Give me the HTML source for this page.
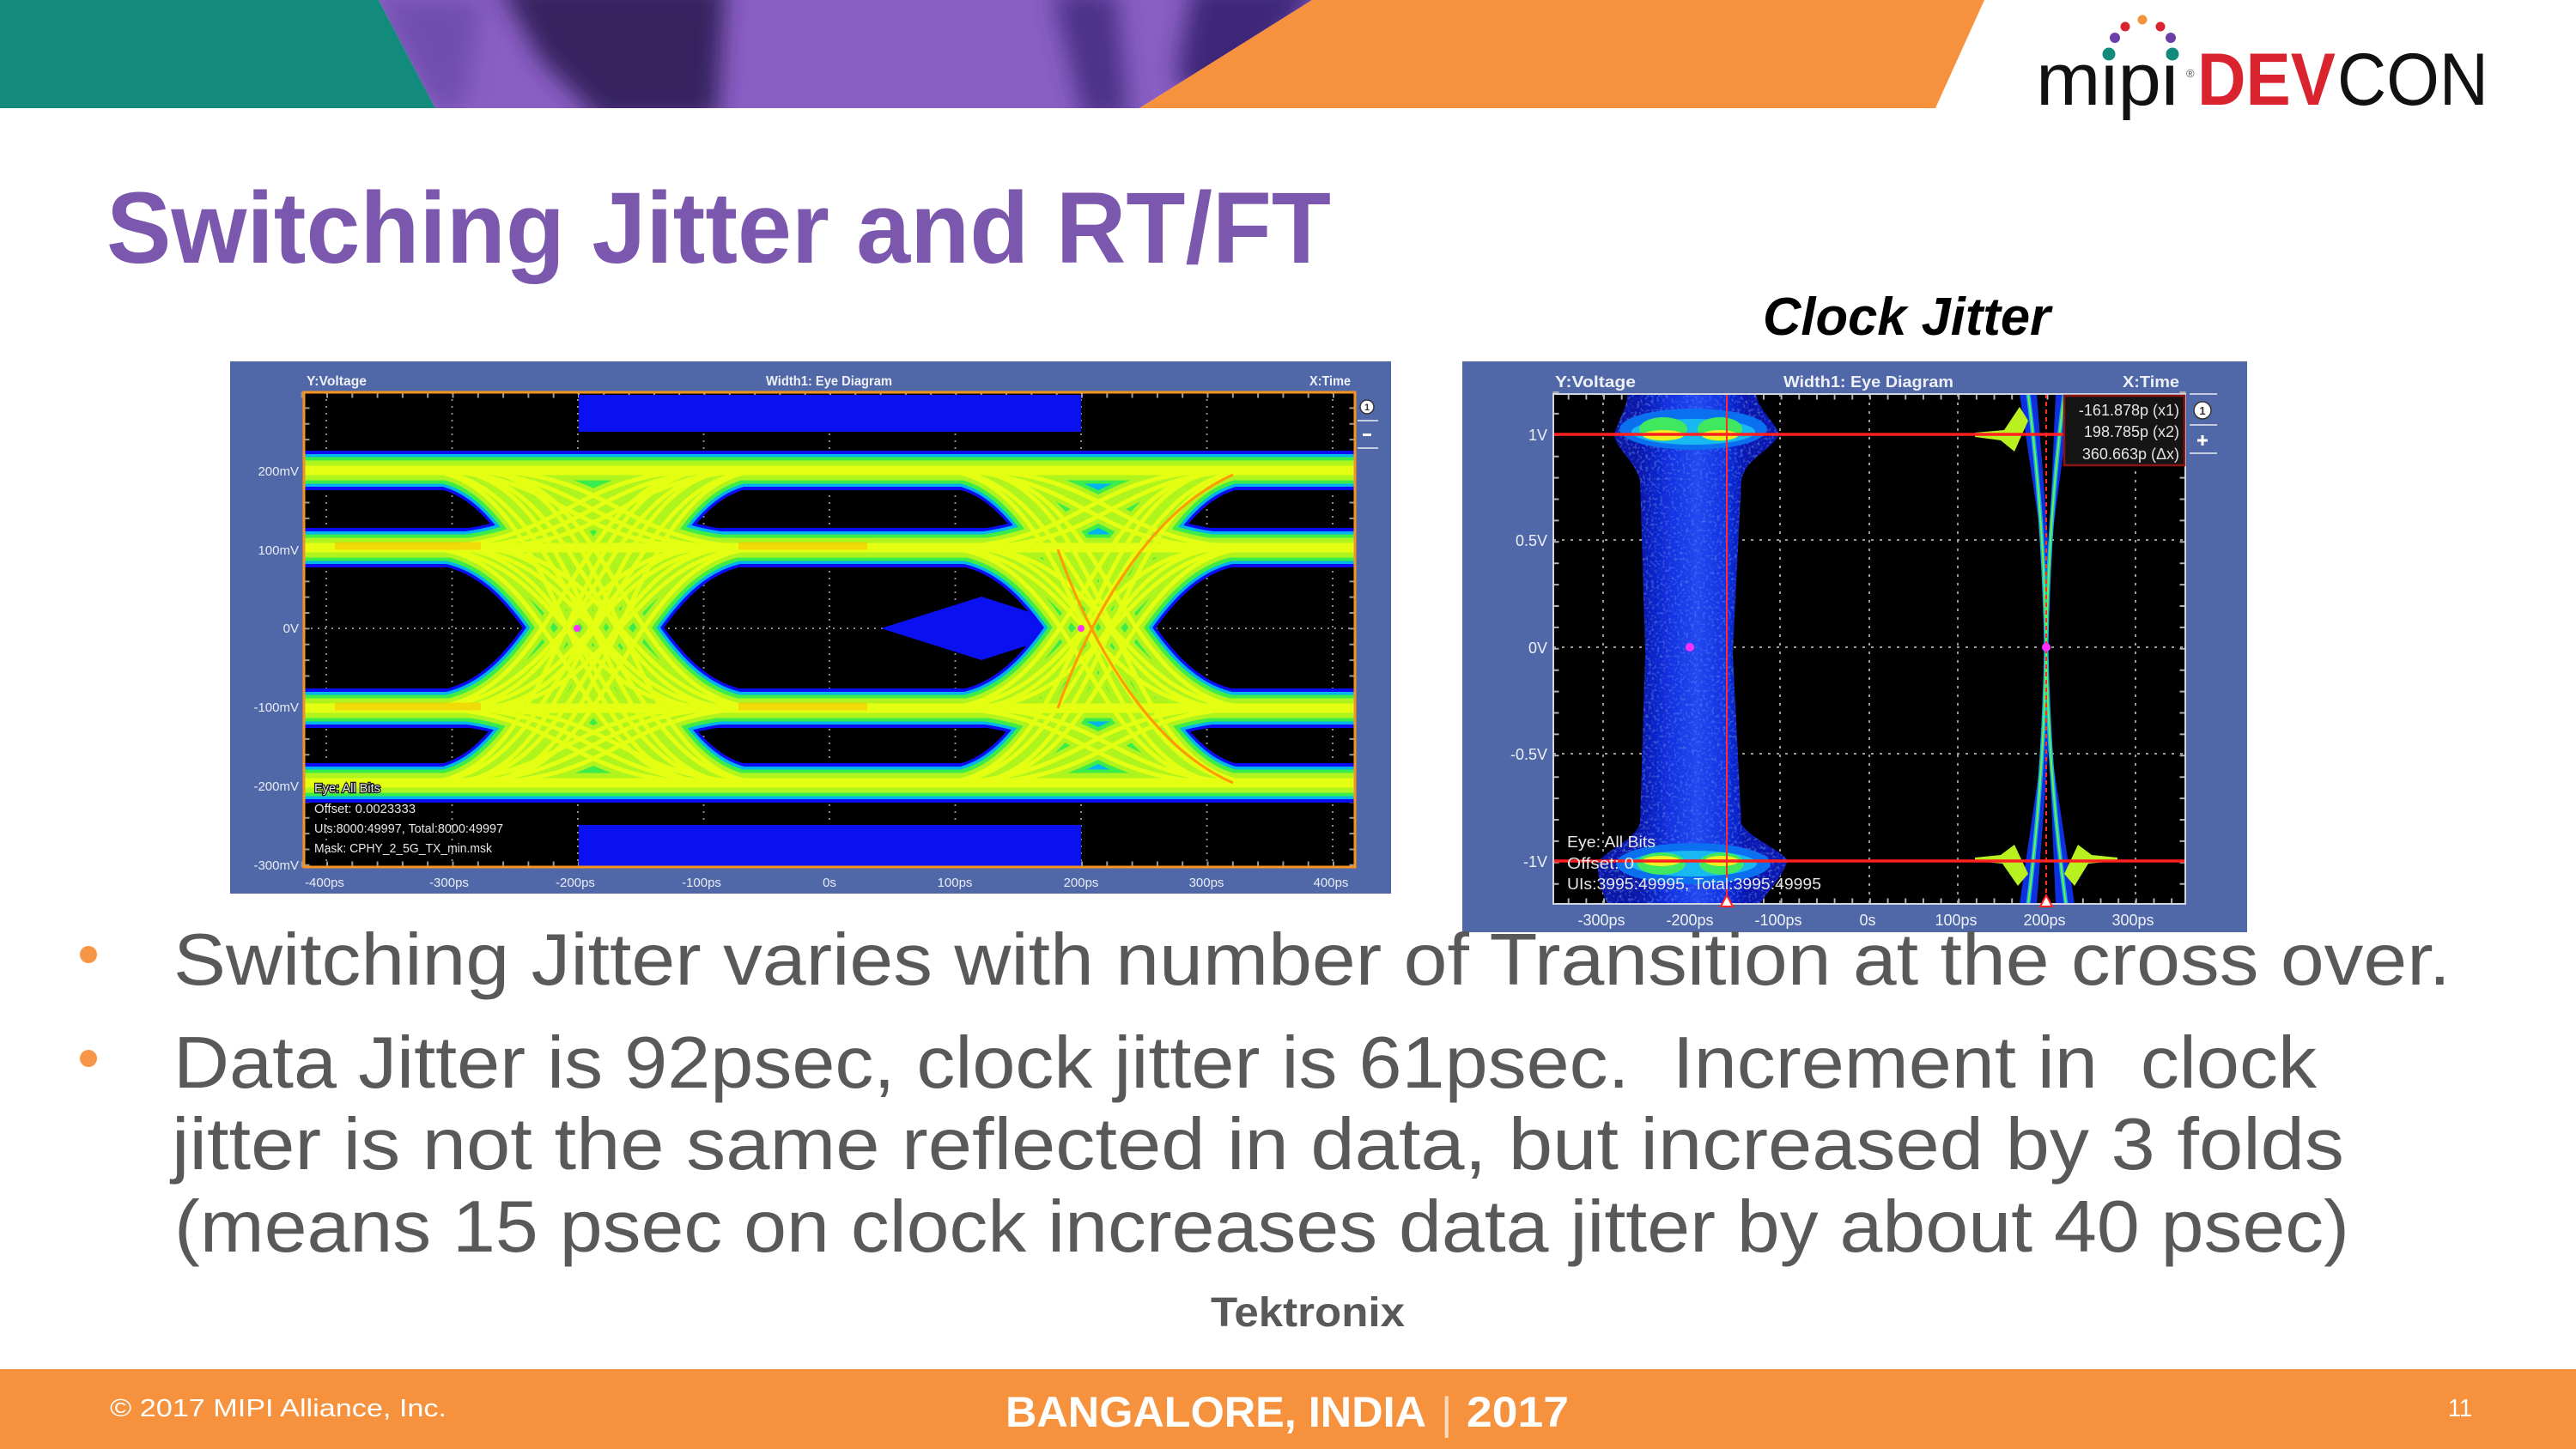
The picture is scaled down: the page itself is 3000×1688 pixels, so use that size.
<!DOCTYPE html>
<html><head><meta charset="utf-8"><style>html,body{margin:0;padding:0;background:#fff;}svg{display:block}</style></head>
<body>
<svg xmlns="http://www.w3.org/2000/svg" width="3000" height="1688" viewBox="0 0 3000 1688" font-family="'Liberation Sans', sans-serif">
<defs>
  <filter id="bl" x="-50%" y="-50%" width="200%" height="200%"><feGaussianBlur stdDeviation="14"/></filter>
  <filter id="spk" x="0" y="0" width="100%" height="100%">
    <feTurbulence type="fractalNoise" baseFrequency="0.3" numOctaves="2" seed="3" result="n"/>
    <feColorMatrix in="n" type="matrix" values="0 0 0 0 0.12  0 0 0 0 0.3  0 0 0 0 1  0 0 0 1.2 -0.62" result="c"/>
    <feComposite in="c" in2="SourceGraphic" operator="in" result="s"/>
    <feMerge><feMergeNode in="SourceGraphic"/><feMergeNode in="s"/></feMerge>
  </filter>
  <clipPath id="pc"><polygon points="441,0 1528,0 1327,126 507,126"/></clipPath>
  <clipPath id="cl"><rect x="354" y="457" width="1224" height="553"/></clipPath>
  <clipPath id="cr"><rect x="1809" y="459" width="736" height="594"/></clipPath>
  <path id="tr" fill="none" d="M-170 548C0 548 0 638 170 638M-170 548C0 548 0 825 170 825M-170 548C0 548 0 912 170 912M-170 638C0 638 0 548 170 548M-170 638C0 638 0 825 170 825M-170 638C0 638 0 912 170 912M-170 825C0 825 0 548 170 548M-170 825C0 825 0 638 170 638M-170 825C0 825 0 912 170 912M-170 912C0 912 0 548 170 548M-170 912C0 912 0 638 170 638M-170 912C0 912 0 825 170 825"/>
  <path id="bands" fill="none" d="M340 548H1590M340 638H1590M340 825H1590M340 912H1590"/>
  <g id="tx">
    <use href="#tr" x="660"/><use href="#tr" x="690"/><use href="#tr" x="722"/>
    <use href="#tr" x="1263"/><use href="#tr" x="1295"/>
  </g>
  <linearGradient id="cg" x1="1905" x2="2035" y1="0" y2="0" gradientUnits="userSpaceOnUse">
    <stop offset="0" stop-color="#0812a8"/><stop offset="0.3" stop-color="#1430e0"/>
    <stop offset="0.55" stop-color="#2248f0"/><stop offset="0.8" stop-color="#1430e0"/>
    <stop offset="1" stop-color="#0812b0"/>
  </linearGradient>
</defs>

<!-- ===== Top banner ===== -->
<polygon points="0,0 441,0 507,126 0,126" fill="#138b7c"/>
<polygon points="441,0 1528,0 1327,126 507,126" fill="#8a5fc4"/>
<g clip-path="url(#pc)">
  <polygon points="441,0 560,0 540,126 507,126" fill="#6f4eae" filter="url(#bl)"/>
  <polygon points="580,-20 845,-20 835,140 700,140 630,70" fill="#34215f" filter="url(#bl)"/>
  <polygon points="1225,-10 1300,-10 1315,140 1262,140" fill="#4c3288" filter="url(#bl)"/>
  <polygon points="1390,-20 1540,-20 1420,140 1370,90" fill="#3e2878" filter="url(#bl)"/>
</g>
<polygon points="1528,0 2311,0 2254,126 1327,126" fill="#f6923d"/>

<!-- logo -->
<text x="2371" y="122" font-size="86" textLength="166" lengthAdjust="spacingAndGlyphs" fill="#111">mipi</text>
<text x="2546" y="90" font-size="13" fill="#555">®</text>
<text x="2559" y="122" font-size="86" font-weight="bold" textLength="161" lengthAdjust="spacingAndGlyphs" fill="#d9232e">DEV</text>
<text x="2722" y="122" font-size="86" textLength="176" lengthAdjust="spacingAndGlyphs" fill="#111">CON</text>
<circle cx="2495" cy="23" r="5.5" fill="#f6923d"/>
<circle cx="2475" cy="31" r="5.5" fill="#d9232e"/><circle cx="2516" cy="31" r="5.5" fill="#d9232e"/>
<circle cx="2463" cy="44" r="6" fill="#6c3fa8"/><circle cx="2528" cy="44" r="6" fill="#6c3fa8"/>
<circle cx="2456" cy="63" r="7.5" fill="#138b7c"/><circle cx="2530" cy="63" r="7.5" fill="#138b7c"/>

<!-- Title -->
<text x="124" y="306" font-size="118" font-weight="bold" fill="#7b57ae" textLength="1426" lengthAdjust="spacingAndGlyphs">Switching Jitter and RT/FT</text>
<text x="2053" y="390" font-size="62" font-weight="bold" font-style="italic" fill="#000" textLength="335" lengthAdjust="spacingAndGlyphs">Clock Jitter</text>

<!-- ===== Left chart ===== -->
<rect x="268" y="421" width="1352" height="620" fill="#5068a8"/>
<text x="357" y="449" font-size="16" font-weight="bold" fill="#eef0f7" textLength="70" lengthAdjust="spacingAndGlyphs">Y:Voltage</text>
<text x="892" y="449" font-size="16" font-weight="bold" fill="#eef0f7" textLength="147" lengthAdjust="spacingAndGlyphs">Width1: Eye Diagram</text>
<text x="1525" y="449" font-size="16" font-weight="bold" fill="#eef0f7" textLength="48" lengthAdjust="spacingAndGlyphs">X:Time</text>
<rect x="354" y="457" width="1224" height="553" fill="#000"/>
<!-- grid -->
<g stroke="#8a8a8a" stroke-width="2" stroke-dasharray="2 6" fill="none">
  <path d="M526.5 457V1010M673 457V1010M819.5 457V1010M966 457V1010M1112.5 457V1010M1259 457V1010M1405.5 457V1010M380 457V1010M1552 457V1010"/>
  <path d="M354 549H1578M354 641H1578M354 732H1578M354 824H1578M354 916H1578"/>
</g>
<g stroke="#9a9a9a" fill="none">
  <path d="M350.7 460H1578" stroke-width="7" stroke-dasharray="2 27.3"/>
  <path d="M350.7 1007H1578" stroke-width="7" stroke-dasharray="2 27.3"/>
  <path d="M357 456V1010" stroke-width="7" stroke-dasharray="2 16.36"/>
  <path d="M1575 456V1010" stroke-width="7" stroke-dasharray="2 16.36"/>
</g>
<!-- masks -->
<rect x="674" y="460" width="585" height="43" fill="#0a10f0"/>
<rect x="674" y="961" width="585" height="48" fill="#0a10f0"/>
<polygon points="1026,732 1143,695 1259,732 1143,769" fill="#0a10f0"/>
<!-- traces -->
<g clip-path="url(#cl)" fill="none">
  <use href="#bands" stroke="#0c0cf0" stroke-width="46"/>
  <use href="#tx" stroke="#0c0cf0" stroke-width="38"/>
  <use href="#bands" stroke="#00b4ee" stroke-width="38"/>
  <use href="#tx" stroke="#00b4ee" stroke-width="31"/>
  <use href="#bands" stroke="#3cec48" stroke-width="31"/>
  <use href="#tx" stroke="#3cec48" stroke-width="24"/>
  <use href="#bands" stroke="#b0f41e" stroke-width="23"/>
  <use href="#tx" stroke="#b0f41e" stroke-width="15"/>
  <use href="#bands" stroke="#e4ff12" stroke-width="11"/>
  <use href="#tx" stroke="#e4ff12" stroke-width="5"/>
  <g stroke="#ffb000" stroke-width="9" opacity="0.45">
    <path d="M390 636H560M860 636H1010M390 823H560M860 823H1010"/>
  </g>
  <path d="M1232 825C1262 738 1330 600 1436 553M1232 640C1262 727 1330 866 1436 912" stroke="#ff9a00" stroke-width="3"/>
</g>
<rect x="354" y="457" width="1224" height="553" fill="none" stroke="#f7941d" stroke-width="3"/>
<circle cx="672" cy="732" r="4" fill="#ff30ff"/><circle cx="1259" cy="732" r="4" fill="#ff30ff"/>
<!-- labels -->
<g font-size="15" fill="#e8ecf5" text-anchor="end">
  <text x="348" y="554">200mV</text><text x="348" y="646">100mV</text><text x="348" y="737">0V</text>
  <text x="348" y="829">-100mV</text><text x="348" y="921">-200mV</text><text x="348" y="1013">-300mV</text>
</g>
<g font-size="15" fill="#e8ecf5" text-anchor="middle">
  <text x="378" y="1033">-400ps</text><text x="523" y="1033">-300ps</text><text x="670" y="1033">-200ps</text>
  <text x="817" y="1033">-100ps</text><text x="966" y="1033">0s</text><text x="1112" y="1033">100ps</text>
  <text x="1259" y="1033">200ps</text><text x="1405" y="1033">300ps</text><text x="1550" y="1033">400ps</text>
</g>
<text x="366" y="923" font-size="15" fill="#e6e6e6" stroke="#1a1a1a" stroke-width="2.5" paint-order="stroke" textLength="77" lengthAdjust="spacingAndGlyphs">Eye: All Bits</text>
<g font-size="15" fill="#e6e6e6">
  <text x="366" y="947" textLength="118" lengthAdjust="spacingAndGlyphs">Offset: 0.0023333</text>
  <text x="366" y="970" textLength="220" lengthAdjust="spacingAndGlyphs">UIs:8000:49997, Total:8000:49997</text>
  <text x="366" y="993" textLength="207" lengthAdjust="spacingAndGlyphs">Mask: CPHY_2_5G_TX_min.msk</text>
</g>
<g>
  <circle cx="1592" cy="474" r="8" fill="#fff" stroke="#333" stroke-width="1.5"/>
  <text x="1592" y="478" font-size="11" font-weight="bold" fill="#333" text-anchor="middle">1</text>
  <path d="M1581 490H1605M1581 522H1605" stroke="#c6cce0" stroke-width="2"/>
  <rect x="1587" y="505" width="10" height="3" fill="#fff"/>
</g>

<!-- ===== Right chart ===== -->
<rect x="1703" y="421" width="914" height="665" fill="#5068a8"/>
<text x="1811" y="451" font-size="18" font-weight="bold" fill="#eef0f7" textLength="94" lengthAdjust="spacingAndGlyphs">Y:Voltage</text>
<text x="2077" y="451" font-size="18" font-weight="bold" fill="#eef0f7" textLength="198" lengthAdjust="spacingAndGlyphs">Width1: Eye Diagram</text>
<text x="2472" y="451" font-size="18" font-weight="bold" fill="#eef0f7" textLength="66" lengthAdjust="spacingAndGlyphs">X:Time</text>
<rect x="1809" y="459" width="736" height="594" fill="#000"/>
<g stroke="#9a9a9a" stroke-width="2" stroke-dasharray="3 7" fill="none">
  <path d="M1867 459V1053M1970 459V1053M2073 459V1053M2177 459V1053M2280 459V1053M2487 459V1053"/>
  <path d="M1809 629H2545M1809 754H2545M1809 878H2545"/>
</g>
<g stroke="#b0b0b0" fill="none">
  <path d="M1825.7 462H2545" stroke-width="7" stroke-dasharray="2 18.66"/>
  <path d="M1825.7 1050H2545" stroke-width="7" stroke-dasharray="2 18.66"/>
  <path d="M1812 456V1053" stroke-width="7" stroke-dasharray="2 22.9"/>
  <path d="M2542 456V1053" stroke-width="7" stroke-dasharray="2 22.9"/>
</g>
<g clip-path="url(#cr)">
  <!-- blue cloud -->
  <path filter="url(#spk)" d="M1895 459L2045 459C2048 478 2068 492 2072 506C2062 526 2032 534 2028 560L2018 760L2028 960C2040 978 2075 990 2082 1003C2072 1028 2055 1042 2050 1053L1872 1053C1866 1040 1858 1018 1862 1003C1875 988 1905 978 1910 958L1916 760L1910 560C1904 536 1882 524 1880 506C1884 490 1896 474 1895 459Z" fill="url(#cg)"/>
  <ellipse cx="1972" cy="500" rx="86" ry="24" fill="#0a70f0"/>
  <ellipse cx="1972" cy="503" rx="72" ry="15" fill="#18b8f0"/>
  <ellipse cx="1937" cy="500" rx="28" ry="14" fill="#40e860"/>
  <ellipse cx="2003" cy="500" rx="26" ry="14" fill="#40e860"/>
  <ellipse cx="1937" cy="507" rx="24" ry="6" fill="#f0f020"/>
  <ellipse cx="2003" cy="507" rx="21" ry="6" fill="#f0f020"/>
  <ellipse cx="1972" cy="1006" rx="90" ry="24" fill="#0a70f0"/>
  <ellipse cx="1972" cy="1006" rx="74" ry="15" fill="#18b8f0"/>
  <ellipse cx="1935" cy="1006" rx="28" ry="13" fill="#40e860"/>
  <ellipse cx="2005" cy="1006" rx="26" ry="13" fill="#40e860"/>
  <ellipse cx="1935" cy="1003" rx="22" ry="6" fill="#f0f020"/>
  <ellipse cx="2005" cy="1003" rx="20" ry="6" fill="#f0f020"/>
  <!-- right crossing -->
  <g fill="#1030e0">
    <polygon points="2352,459 2372,459 2386,640 2383,754 2379,640"/>
    <polygon points="2394,459 2412,459 2388,640 2383,754 2386,640"/>
    <polygon points="2352,1053 2372,1053 2386,868 2383,754 2379,868"/>
    <polygon points="2394,1053 2416,1053 2388,868 2383,754 2386,868"/>
  </g>
  <g fill="none" stroke-linecap="round">
    <path d="M2362 459Q2380 600 2383 754Q2380 908 2362 1053M2404 459Q2386 600 2383 754Q2386 908 2406 1053" stroke="#10b0e8" stroke-width="5"/>
    <path d="M2362 459Q2380 600 2383 754Q2380 908 2362 1053M2404 459Q2386 600 2383 754Q2386 908 2406 1053" stroke="#70f040" stroke-width="2"/>
  </g>
  <g fill="#b8f020">
    <polygon points="2300,504 2334,501 2352,474 2362,490 2346,526 2330,513 2300,509"/>
    <polygon points="2300,1003 2332,1006 2350,1032 2362,1018 2346,984 2330,996 2300,999"/>
    <polygon points="2466,1003 2432,1006 2416,1032 2404,1018 2420,984 2436,996 2466,999"/>
  </g>
  <g fill="none" stroke="#ffa000" stroke-width="3">
    <path d="M2296 506H2335M2296 1003H2335M2430 1003H2470"/>
  </g>
  <!-- red lines -->
  <path d="M1809 506H2545M1809 1003H2545" stroke="#ff2020" stroke-width="3.5"/>
  <path d="M2011 459V1053" stroke="#ff2a2a" stroke-width="2"/>
  <path d="M2383 459V1053" stroke="#ff2a2a" stroke-width="2" stroke-dasharray="5 4"/>
</g>
<rect x="1809" y="459" width="736" height="594" fill="none" stroke="#d0d4e0" stroke-width="2"/>
<circle cx="1968" cy="754" r="5" fill="#ff30ff"/><circle cx="2383" cy="754" r="5" fill="#ff30ff"/>
<polygon points="2011,1043 2004,1056 2018,1056" fill="#fff" stroke="#ff2020" stroke-width="2"/>
<polygon points="2383,1043 2376,1056 2390,1056" fill="#fff" stroke="#ff2020" stroke-width="2"/>
<!-- measurement box -->
<rect x="2404" y="461" width="140" height="81" fill="#151515" stroke="#8c1414" stroke-width="2.5"/>
<g font-size="18" fill="#e4e4e4" text-anchor="end">
  <text x="2538" y="484">-161.878p (x1)</text>
  <text x="2538" y="509">198.785p (x2)</text>
  <text x="2538" y="535">360.663p (Δx)</text>
</g>
<g>
  <path d="M2550 459H2582M2550 495H2582M2550 528H2582" stroke="#c6cce0" stroke-width="2"/>
  <circle cx="2565" cy="478" r="10" fill="#fff" stroke="#333" stroke-width="1.5"/>
  <text x="2565" y="483" font-size="13" font-weight="bold" fill="#333" text-anchor="middle">1</text>
  <path d="M2559 513H2571M2565 507V519" stroke="#fff" stroke-width="3"/>
</g>
<g font-size="18" fill="#eef0f7" text-anchor="end">
  <text x="1802" y="513">1V</text><text x="1802" y="636">0.5V</text><text x="1802" y="761">0V</text>
  <text x="1802" y="885">-0.5V</text><text x="1802" y="1010">-1V</text>
</g>
<g font-size="18" fill="#eef0f7" text-anchor="middle">
  <text x="1865" y="1078">-300ps</text><text x="1968" y="1078">-200ps</text><text x="2071" y="1078">-100ps</text>
  <text x="2175" y="1078">0s</text><text x="2278" y="1078">100ps</text><text x="2381" y="1078">200ps</text><text x="2484" y="1078">300ps</text>
</g>
<g font-size="18" fill="#e6e6e6">
  <text x="1825" y="987" textLength="103" lengthAdjust="spacingAndGlyphs">Eye: All Bits</text>
  <text x="1825" y="1012" textLength="78" lengthAdjust="spacingAndGlyphs">Offset: 0</text>
  <text x="1825" y="1036" textLength="296" lengthAdjust="spacingAndGlyphs">UIs:3995:49995, Total:3995:49995</text>
</g>

<!-- ===== Bullets ===== -->
<circle cx="103" cy="1112" r="10" fill="#f79646"/>
<circle cx="103" cy="1233" r="10" fill="#f79646"/>
<g font-size="85" fill="#595959" style="white-space:pre">
  <text x="202" y="1147" textLength="2652" lengthAdjust="spacingAndGlyphs">Switching Jitter varies with number of Transition at the cross over.</text>
  <text x="202" y="1267" textLength="2496" lengthAdjust="spacingAndGlyphs" xml:space="preserve">Data Jitter is 92psec, clock jitter is 61psec.  Increment in  clock</text>
  <text x="200" y="1362" textLength="2530" lengthAdjust="spacingAndGlyphs">jitter is not the same reflected in data, but increased by 3 folds</text>
  <text x="203" y="1458" textLength="2533" lengthAdjust="spacingAndGlyphs">(means 15 psec on clock increases data jitter by about 40 psec)</text>
</g>
<text x="1410" y="1545" font-size="48" font-weight="bold" fill="#595959" textLength="226" lengthAdjust="spacingAndGlyphs">Tektronix</text>

<!-- ===== Footer ===== -->
<rect x="0" y="1595" width="3000" height="93" fill="#f6923d"/>
<text x="128" y="1650" font-size="29" fill="#fff" textLength="392" lengthAdjust="spacingAndGlyphs">© 2017 MIPI Alliance, Inc.</text>
<text x="1171" y="1662" font-size="50" font-weight="bold" fill="#fff" textLength="490" lengthAdjust="spacingAndGlyphs">BANGALORE, INDIA</text>
<text x="1678" y="1664" font-size="52" fill="#fcd9b8">|</text>
<text x="1708" y="1662" font-size="50" font-weight="bold" fill="#fff" textLength="119" lengthAdjust="spacingAndGlyphs">2017</text>
<text x="2851" y="1650" font-size="29" fill="#fff" textLength="28" lengthAdjust="spacingAndGlyphs">11</text>
</svg>
</body></html>
